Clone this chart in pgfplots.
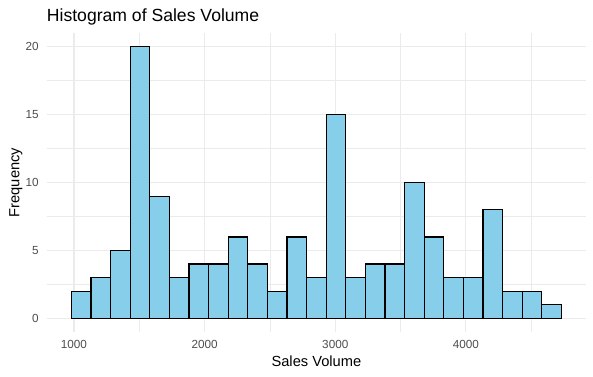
\documentclass[border=0pt]{standalone}
\usepackage{fontspec}
\setmainfont{Liberation Sans}
\usepackage{pgfplots}
\pgfplotsset{compat=1.18}
\definecolor{barfill}{HTML}{87CEEB}
\definecolor{gridc}{HTML}{EBEBEB}
\definecolor{tickc}{HTML}{4D4D4D}
\begin{document}
\begin{tikzpicture}
\useasboundingbox (-35.0pt,-33.75pt) rectangle ++(444.75pt,282.75pt);
\begin{axis}[
  axis on top=false,
  at={(0pt,0pt)}, anchor=south west,
  scale only axis,
  width=404.6pt, height=224.1pt,
  xmin=791, xmax=4920, ymin=-1, ymax=21,
  axis line style={draw=none},
  major tick length=0pt, minor tick length=0pt,
  xtick={1000,2000,3000,4000},
  minor xtick={1500,2500,3500,4500},
  ytick={0,5,10,15,20},
  minor ytick={2.5,7.5,12.5,17.5},
  xmajorgrids, ymajorgrids, xminorgrids, yminorgrids,
  major grid style={draw=gridc, line width=0.8pt},
  minor grid style={draw=gridc, line width=0.6pt},
  /pgf/number format/assume math mode=true,
  /pgf/number format/1000 sep={},
  xticklabel style={font=\fontsize{8.8pt}{10pt}\selectfont, text=tickc, anchor=base, inner sep=0pt, yshift=-12.75pt},
  yticklabel style={font=\fontsize{8.8pt}{10pt}\selectfont, text=tickc, anchor=east, inner sep=0pt, xshift=-5.8pt},
  xlabel={Sales Volume},
  xlabel style={font=\fontsize{11pt}{13pt}\selectfont, at={(axis description cs:0.5,0)}, anchor=base, inner sep=0pt, yshift=-26pt},
  ylabel={Frequency},
  ylabel style={font=\fontsize{11pt}{13pt}\selectfont, at={(axis description cs:-0.0505,0.5)}, anchor=base, inner sep=0pt},
  title={Histogram of Sales Volume},
  title style={font=\fontsize{13.2pt}{15pt}\selectfont, at={(axis description cs:0,1.0382)}, anchor=base west, inner sep=0pt, yshift=-6pt},
]
\addplot[ybar, bar width=150, bar shift=0pt, fill=barfill, draw=black, line width=0.9pt] coordinates {
(1055,2) (1205,3) (1355,5) (1505,20) (1655,9) (1805,3) (1955,4) (2105,4) (2255,6) (2405,4)
(2555,2) (2705,6) (2855,3) (3005,15) (3155,3) (3305,4) (3455,4) (3605,10) (3755,6) (3905,3)
(4055,3) (4205,8) (4355,2) (4505,2) (4655,1)
};
\end{axis}
\end{tikzpicture}
\end{document}
